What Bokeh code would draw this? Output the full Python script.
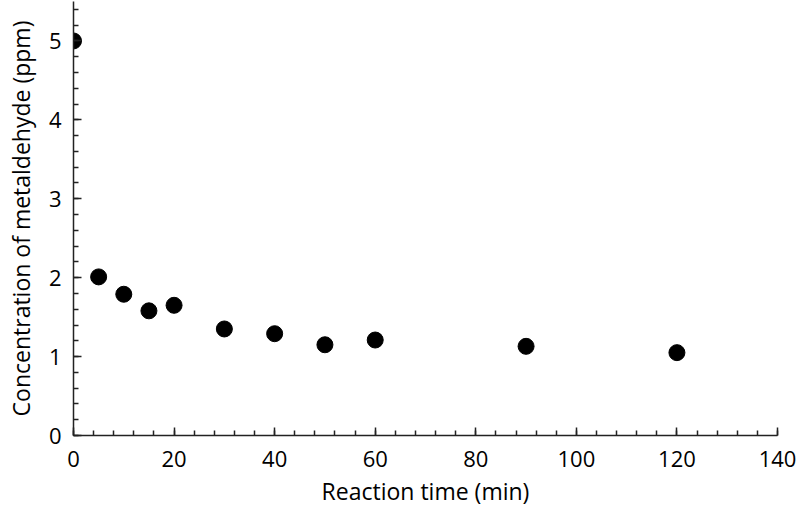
from bokeh.plotting import figure
from bokeh.models import SingleIntervalTicker, Range1d
from bokeh.embed import file_html
from bokeh.resources import INLINE

time_min = [0, 5, 10, 15, 20, 30, 40, 50, 60, 90, 120]
conc_ppm = [5.0, 2.01, 1.79, 1.58, 1.65, 1.35, 1.29, 1.15, 1.21, 1.13, 1.05]

FONT = "Open Sans"

p = figure(width=799, height=509, output_backend="svg", toolbar_location=None,
           x_range=Range1d(0, 140), y_range=Range1d(0, 5.5),
           min_border_left=73, min_border_right=22, min_border_top=1, min_border_bottom=73)
p.outline_line_color = None
p.xgrid.visible = False
p.ygrid.visible = False

p.scatter(time_min, conc_ppm, size=16, color="black")

for ax in (p.xaxis[0], p.yaxis[0]):
    ax.axis_line_color = "#222222"
    ax.axis_line_width = 1.5
    ax.major_tick_line_color = "#222222"
    ax.minor_tick_line_color = "#222222"
    ax.major_tick_line_width = 1.5
    ax.minor_tick_line_width = 1.5
    ax.major_tick_in = 8
    ax.major_tick_out = 0
    ax.minor_tick_in = 5
    ax.minor_tick_out = 0
    ax.major_label_text_font = FONT
    ax.major_label_text_font_size = "22px"
    ax.major_label_text_color = "black"
    ax.axis_label_text_font = FONT
    ax.axis_label_text_font_size = "23px"
    ax.axis_label_text_font_style = "normal"
    ax.axis_label_text_color = "black"

p.xaxis[0].ticker = SingleIntervalTicker(interval=20, num_minor_ticks=5)
p.yaxis[0].ticker = SingleIntervalTicker(interval=1, num_minor_ticks=5)
p.xaxis[0].axis_label = "Reaction time (min)"
p.yaxis[0].axis_label = "Concentration of metaldehyde (ppm)"
p.xaxis[0].major_label_standoff = 15
p.yaxis[0].major_label_standoff = 12
p.xaxis[0].axis_label_standoff = 5
p.yaxis[0].axis_label_standoff = 9

open("out.html", "w").write(file_html(p, INLINE))
